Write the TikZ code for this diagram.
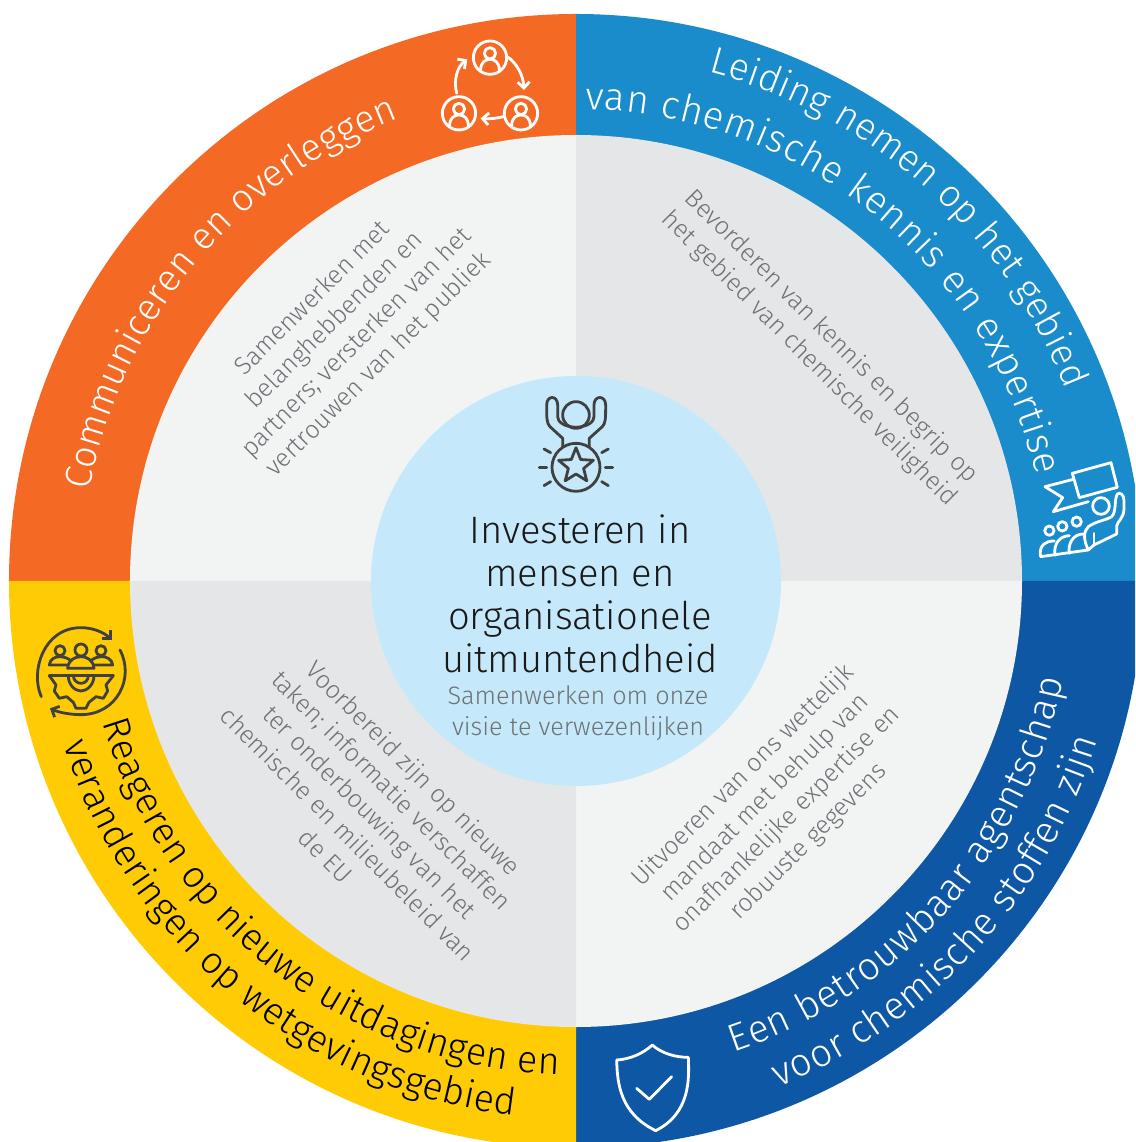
\documentclass[tikz,border=0pt]{standalone}
\usepackage{fontspec}
\setmainfont{Fira Sans}[UprightFont={* Light}]
\usetikzlibrary{decorations.text,arrows.meta}
\definecolor{cOrange}{HTML}{F46A25}
\definecolor{cBlue}{HTML}{1A8CCB}
\definecolor{cDark}{HTML}{0E57A4}
\definecolor{cYellow}{HTML}{FFCB05}
\definecolor{cLight}{HTML}{F2F4F3}
\definecolor{cMid}{HTML}{E5E6E8}
\definecolor{cCentre}{HTML}{C5E9FA}
\definecolor{cGrey}{HTML}{6E7176}
\definecolor{cIcon}{HTML}{404040}
\newcommand{\ringfont}{\fontsize{38.6}{39}\selectfont}
\newcommand{\ringfontb}{\fontsize{37.7}{39}\selectfont}
\tikzset{
  x=1pt,y=1pt,
  icon/.style={shift={#1},x=0.3333pt,y=-0.3333pt,line join=round,line cap=round},
  white icon/.style={draw=white,line width=2.8pt},
  dark icon/.style={draw=cIcon,line width=2.8pt},
  blockstyle/.style={text=cGrey,align=center,font=\fontsize{25}{31}\selectfont,inner sep=0pt},
  titlestyle/.style={text=black!90,font=\fontsize{38.2}{38.2}\selectfont,inner sep=0pt,anchor=base},
  substyle/.style={text=cGrey,font=\fontsize{25.2}{25.2}\selectfont,inner sep=0pt,anchor=base},
  barb/.style={-{Straight Barb[length=6pt,width=12pt]}},
  personpic/.pic={
    \draw[white icon] (0,0) circle[radius=50];
    \draw[white icon] (0,-13) circle[radius=17];
    \draw[white icon] (-28,37) .. controls (-28,14) and (-14,5) .. (0,5) .. controls (14,5) and (28,14) .. (28,37);
  }
}
\begin{document}
\begin{tikzpicture}
\useasboundingbox (-576,-561) rectangle (559,581);
\clip (-576,-561) rectangle (559,581);
\fill[white] (-576,-561) rectangle (559,581);
% ring
\fill[cOrange] (0,0) -- (-567,0) arc (180:90:567) -- cycle;
\fill[cBlue] (0,0) -- (0,567) arc (90:0:567) -- cycle;
\fill[cDark] (0,0) -- (567,0) arc (0:-90:567) -- cycle;
\fill[cYellow] (0,0) -- (0,-567) arc (270:180:567) -- cycle;
% inner sectors
\fill[cLight] (0,0) -- (-446,0) arc (180:90:446) -- cycle;
\fill[cMid] (0,0) -- (0,446) arc (90:0:446) -- cycle;
\fill[cLight] (0,0) -- (446,0) arc (0:-90:446) -- cycle;
\fill[cMid] (0,0) -- (0,-446) arc (270:180:446) -- cycle;
\fill[cCentre] (0,0) circle[radius=205];
% ring labels
\path[decorate,decoration={text along path,text align={fit to path},text={|\ringfontb\color{white}|Communiceren en overleggen}}] (169.5:495) arc (169.5:111:495);
\path[decorate,decoration={text along path,text align={fit to path},text={|\ringfontb\color{white}|Leiding nemen op het gebied}}] (75.4:526) arc (75.4:21.4:526);
\path[decorate,decoration={text along path,text align={fit to path},text={|\ringfont\color{white}|van chemische kennis en expertise}}] (88.9:472) arc (88.9:12.9:472);
\path[decorate,decoration={text along path,text align={fit to path},text={|\ringfont\color{white}|Een betrouwbaar agentschap}}] (-71.5:497) arc (-71.5:-11.5:497);
\path[decorate,decoration={text along path,text align={fit to path},text={|\ringfont\color{white}|voor chemische stoffen zijn}}] (-68.2:545) arc (-68.2:-17:545);
\path[decorate,decoration={text along path,text align={fit to path},text={|\ringfontb\color{black}|Reageren op nieuwe uitdagingen en}}] (196.7:494) arc (196.7:268:494);
\path[decorate,decoration={text along path,text align={fit to path},text={|\ringfontb\color{black}|veranderingen op wetgevingsgebied}}] (197.7:538) arc (197.7:263.4:538);
% quadrant texts
\node[blockstyle,rotate=45] (tl) at (-230,249) {Samenwerken met\\belanghebbenden en\\partners; versterken van het\\vertrouwen van het publiek};
\node[blockstyle,rotate=-45] (tr) at (244,233) {Bevorderen van kennis en begrip op\\het gebied van chemische veiligheid};
\node[blockstyle,rotate=-45] (bl) at (-206,-231) {Voorbereid zijn op nieuwe\\taken; informatie verschaffen\\ter onderbouwing van het\\chemische en milieubeleid van\\de EU};
\node[blockstyle,rotate=45] (br) at (200,-228) {Uitvoeren van ons wettelijk\\mandaat met behulp van\\onafhankelijke expertise en\\robuuste gegevens};
% centre text
\node[titlestyle] (c1) at (4,37) {Investeren in};
\node[titlestyle] (c2) at (4,-6) {mensen en};
\node[titlestyle] (c3) at (4,-49) {organisationele};
\node[titlestyle] (c4) at (4,-92) {uitmuntendheid};
\node[substyle] (s1) at (2,-123) {Samenwerken om onze};
\node[substyle] (s2) at (2,-154) {visie te verwezenlijken};
% icon: people in a cycle
\begin{scope}[icon={(-156,561)}]
  \pic at (210,113) {personpic};
  \pic at (303,280) {personpic};
  \pic at (117,280) {personpic};
  \draw[white icon,barb] (262,110) .. controls (290,130) and (310,165) .. (312,210);
  \draw[white icon,barb] (250,290) .. controls (228,296) and (205,297) .. (182,295);
  \draw[white icon,barb] (110,220) .. controls (100,180) and (112,140) .. (142,118);
\end{scope}
% icon: hand with flag
\begin{scope}[icon={(444,131)}]
  \draw[white icon] (157,70) -- (273,38) -- (292,112) -- (178,143) -- cycle;
  \draw[white icon] (160,88) -- (75,110) -- (128,143) -- (100,185) -- (205,155);
  \draw[white icon] (243,168) circle[radius=25];
  \draw[white icon] (170,215) circle[radius=14];
  \draw[white icon] (127,229) circle[radius=14];
  \draw[white icon] (88,242) circle[radius=14];
  \draw[white icon] (62,320) .. controls (55,290) and (75,272) .. (103,273);
  \draw[white icon] (105,316) .. controls (100,280) and (120,258) .. (148,257);
  \draw[white icon] (148,310) .. controls (143,280) and (160,252) .. (190,252);
  \draw[white icon] (62,320) -- (205,300) .. controls (190,270) and (190,245) .. (205,230)
     .. controls (225,215) and (260,210) .. (275,200) .. controls (290,185) and (282,150) .. (292,132)
     .. controls (300,125) and (312,135) .. (312,150) -- (312,180) .. controls (310,205) and (292,215) .. (290,228)
     -- (290,252) -- (222,285) -- (205,300);
  \draw[white icon] (222,250) -- (222,285);
\end{scope}
% icon: gear with people
\begin{scope}[icon={(-556,-34)}]
  \draw[dark icon,barb] (64,245) .. controls (30,170) and (70,38) .. (183,38) .. controls (215,38) and (250,50) .. (275,75);
  \draw[dark icon,barb] (300,105) .. controls (345,190) and (290,299) .. (183,299) .. controls (150,299) and (115,292) .. (90,280);
  \draw[dark icon] (183,105) circle[radius=18];
  \draw[dark icon] (120,107) circle[radius=15];
  \draw[dark icon] (243,107) circle[radius=15];
  \draw[dark icon] (143,160) .. controls (145,135) and (165,125) .. (183,125) .. controls (200,125) and (220,135) .. (222,160) -- cycle;
  \draw[dark icon] (143,150) -- (88,150) .. controls (90,132) and (105,125) .. (120,125) .. controls (130,125) and (140,128) .. (150,135);
  \draw[dark icon] (222,150) -- (278,150) .. controls (276,132) and (260,125) .. (245,125) .. controls (235,125) and (225,128) .. (215,135);
  \draw[dark icon] (88,182) -- (280,182);
  \draw[dark icon] (145,182) .. controls (145,210) and (165,228) .. (183,228) .. controls (200,228) and (222,210) .. (222,182);
  \draw[dark icon] (160,182) .. controls (160,196) and (172,205) .. (183,205) .. controls (195,205) and (205,196) .. (205,182);
  \draw[dark icon] (88,182) -- (108,210) -- (103,228) -- (118,250) -- (140,245) -- (160,262) -- (168,280) -- (198,280) -- (207,262) -- (228,245) -- (250,250) -- (263,228) -- (258,210) -- (280,182);
\end{scope}
% icon: shield
\begin{scope}[icon={(24,-449)}]
  \draw[white icon] (157,45) .. controls (185,70) and (225,82) .. (265,82) .. controls (268,150) and (270,250) .. (167,302)
     .. controls (60,250) and (52,160) .. (50,90) .. controls (90,88) and (130,70) .. (157,45) -- cycle;
  \draw[white icon] (110,175) -- (148,208) -- (215,140);
\end{scope}
% icon: medal
\begin{scope}[icon={(-56,196)}]
  \draw[dark icon] (128,185) -- (128,160) -- (90,125) .. controls (80,115) and (80,100) .. (80,60) .. controls (80,30) and (113,30) .. (113,60) -- (113,95) .. controls (113,110) and (130,125) .. (168,127) .. controls (205,125) and (222,110) .. (222,95) -- (222,60) .. controls (222,30) and (257,30) .. (257,60) .. controls (257,100) and (257,115) .. (247,125) -- (208,160) -- (208,185);
  \draw[dark icon] (168,90) circle[radius=40];
  \draw[dark icon] (168,247) circle[radius=72];
  \draw[dark icon,shift={(168,243)}] (-90:55) -- (-54:24) -- (-18:55) -- (18:24) -- (54:55) -- (90:24) -- (126:55) -- (162:24) -- (198:55) -- (234:24) -- cycle;
  \draw[dark icon] (58,247) -- (80,247);
  \draw[dark icon] (256,247) -- (278,247);
  \draw[dark icon] (72,192) -- (92,203);
  \draw[dark icon] (72,302) -- (92,290);
  \draw[dark icon] (245,203) -- (265,192);
  \draw[dark icon] (245,290) -- (265,302);
\end{scope}
\end{tikzpicture}
\end{document}
